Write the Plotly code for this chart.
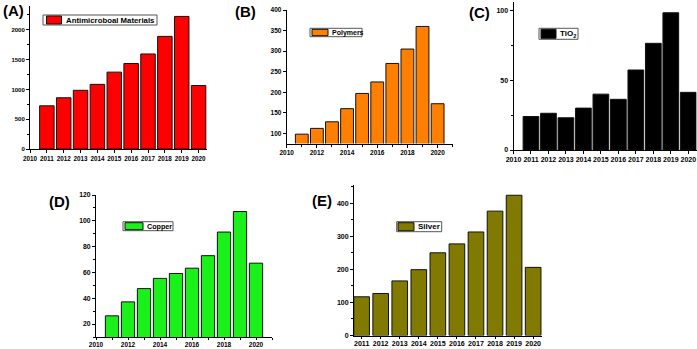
import plotly.graph_objects as go

# ---------------- data ----------------
years = [2011, 2012, 2013, 2014, 2015, 2016, 2017, 2018, 2019, 2020]

antimicrobial = [725, 860, 985, 1085, 1290, 1435, 1595, 1890, 2225, 1065]
polymers = [98, 112, 128, 160, 197, 225, 270, 305, 360, 172]
tio2 = [24, 26.3, 23.1, 30, 40, 36.3, 57.3, 76.4, 98.3, 41.3]
copper = [26.4, 37.2, 47.5, 55.4, 59.2, 63.3, 73, 91.3, 107.2, 67.2]
silver = [117, 127, 165, 199, 250, 277, 313, 376, 424, 206]

series_names = ["Antimicroboal Materials", "Polymers", "TiO<sub>2</sub>", "Copper", "Silver"]
panel_labels = ["(A)", "(B)", "(C)", "(D)", "(E)"]

W, H = 697, 349
FONT = "Liberation Sans, Arial, sans-serif"


def px(x):
    return x / W


def py(y):
    return 1 - y / H


panels = [
    dict(vals=antimicrobial, color="#FF0000", bw=0.86, xd=(30, 207), yd=(6, 149),
         xr=[2010, 2020.5], yr=[0, 2400], xtv=list(range(2010, 2021)), ydt=500, ymin=250, xmin=None,
         xfs=6.3, yfs=6, xtl=3, lfs=7.8, leg=(43, 157, 15, 25, 46.5, 61.5), title=(13, 10)),
    dict(vals=polymers, color="#FF8000", bw=0.85, xd=(286.7, 452.7), yd=(10, 143.6),
         xr=[2010, 2021], yr=[75, 400], xtv=list(range(2010, 2021, 2)), ydt=50, ymin=None, xmin=1,
         xfs=6.5, yfs=6.5, xtl=3, lfs=7, leg=(310, 362, 28.3, 36.7, 312, 328), title=(245, 11)),
    dict(vals=tio2, color="#000000", bw=0.9, xd=(513.5, 696.5), yd=(2, 150),
         xr=[2010, 2020.47], yr=[0, 106], xtv=list(range(2010, 2021)), ydt=50, ymin=25, xmin=None,
         xfs=7, yfs=7, xtl=3, lfs=8, leg=(539, 578, 28.3, 39.3, 541, 556), title=(479, 12.5)),
    dict(vals=copper, color="#1AF01A", bw=0.83, xd=(96, 272), yd=(195, 337),
         xr=[2010, 2021], yr=[10, 120], xtv=list(range(2010, 2021, 2)), ydt=20, ymin=10, xmin=1,
         xfs=6.5, yfs=6.8, xtl=2, lfs=7.2, leg=(123, 173, 221.7, 230.7, 125, 143), title=(59, 202)),
    dict(vals=silver, color="#807B00", bw=0.82, xd=(354, 542.3), yd=(185, 335.5),
         xr=[2010.6, 2020.48], yr=[0, 455], xtv=list(range(2011, 2021)), ydt=100, ymin=50, xmin=None,
         xfs=7.1, yfs=7, xtl=2, lfs=8, leg=(396.7, 441.7, 221.7, 231.7, 398, 414), title=(321.7, 200)),
]

fig = go.Figure()
shapes = []
annotations = []

for i, p in enumerate(panels):
    n = "" if i == 0 else str(i + 1)
    xa, ya = "x" + n, "y" + n
    fig.add_trace(go.Bar(
        x=years, y=p["vals"], name=series_names[i], width=p["bw"],
        marker=dict(color=p["color"], line=dict(color="#111111", width=1)),
        xaxis=xa, yaxis=ya, showlegend=False,
    ))
    xaxis = dict(
        domain=[px(p["xd"][0]), px(p["xd"][1])], range=p["xr"], anchor=ya,
        showline=True, linecolor="black", linewidth=1, ticks="outside", ticklen=p["xtl"],
        tickcolor="black", tickwidth=1, tickmode="array", tickvals=p["xtv"],
        ticktext=[str(v) for v in p["xtv"]], tickangle=0, showgrid=False, zeroline=False,
        tickfont=dict(family=FONT, size=p["xfs"], color="black", weight="bold"), fixedrange=True,
        automargin=False,
    )
    if p["xmin"]:
        xaxis["minor"] = dict(ticks="outside", ticklen=2, dtick=p["xmin"], tickcolor="black", showgrid=False)
    yaxis = dict(
        domain=[py(p["yd"][1]), py(p["yd"][0])], range=p["yr"], anchor=xa,
        showline=True, linecolor="black", linewidth=1, ticks="outside", ticklen=3,
        tickcolor="black", tickwidth=1, dtick=p["ydt"], tick0=0, showgrid=False, zeroline=False,
        tickfont=dict(family=FONT, size=p["yfs"], color="black", weight="bold"), fixedrange=True,
        automargin=False,
    )
    if p["ymin"]:
        yaxis["minor"] = dict(ticks="outside", ticklen=2, dtick=p["ymin"], tickcolor="black", showgrid=False)
    fig.layout["xaxis" + n] = xaxis
    fig.layout["yaxis" + n] = yaxis
    if i >= 3:
        try:
            fig.layout["xaxis" + n].ticklabelstandoff = -1
        except Exception:
            pass

    # legend box
    x0, x1, y0, y1, s0, s1 = p["leg"]
    shapes.append(dict(type="rect", xref="paper", yref="paper",
                       x0=px(x0), x1=px(x1), y0=py(y1), y1=py(y0),
                       line=dict(color="#555555", width=1), fillcolor="white"))
    shapes.append(dict(type="rect", xref="paper", yref="paper",
                       x0=px(s0), x1=px(s1), y0=py(y1 - 1), y1=py(y0 + 1),
                       line=dict(color="#111111", width=1), fillcolor=p["color"]))
    annotations.append(dict(text=series_names[i], xref="paper", yref="paper",
                            x=px(s1 + 2), y=py((y0 + y1) / 2), xanchor="left", yanchor="middle",
                            showarrow=False, font=dict(family=FONT, size=p["lfs"], color="black", weight="bold")))
    # panel label
    annotations.append(dict(text=panel_labels[i], xref="paper", yref="paper",
                            x=px(p["title"][0]), y=py(p["title"][1]), xanchor="center", yanchor="middle",
                            showarrow=False, font=dict(family=FONT, size=15, color="black", weight="bold")))

fig.update_layout(
    width=W, height=H, margin=dict(l=0, r=0, t=0, b=0, pad=0, autoexpand=False),
    paper_bgcolor="white", plot_bgcolor="white",
    shapes=shapes, annotations=annotations, showlegend=False, barmode="overlay",
)

fig.write_html(
    "out.html",
    config={"displayModeBar": False, "responsive": False},
    post_script="document.body.style.margin='0';document.body.style.padding='0';",
)
